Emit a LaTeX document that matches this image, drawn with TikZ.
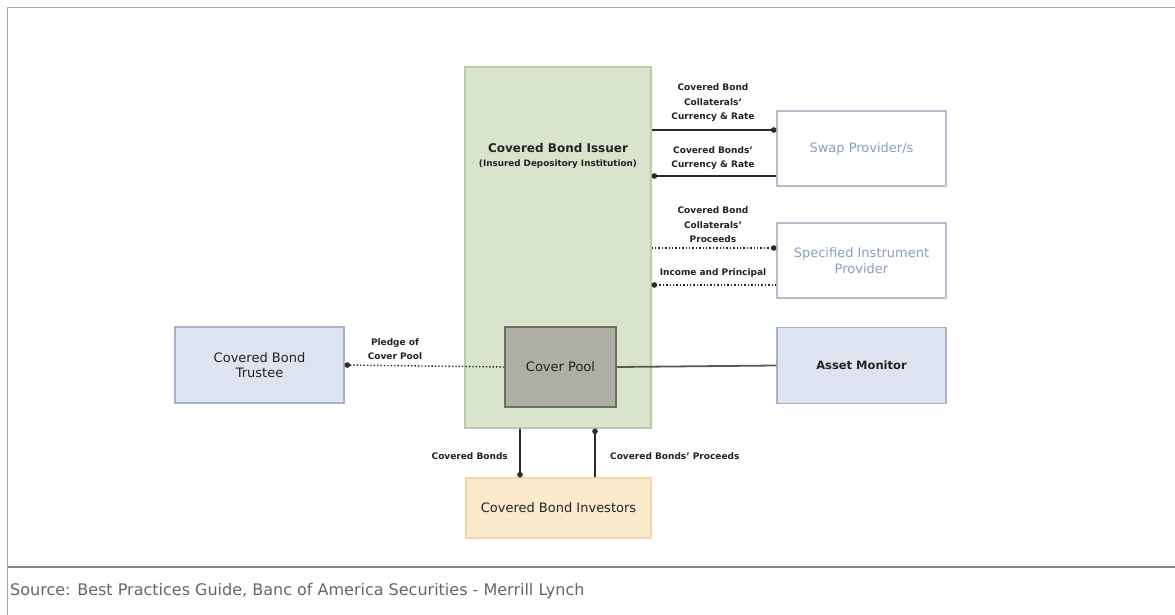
\documentclass[tikz,border=0pt]{standalone}
\usepackage{fontspec}
\setmainfont{DejaVu Sans}
\usetikzlibrary{arrows.meta}
\definecolor{issuerfill}{HTML}{D8E4CC}
\definecolor{issuerdraw}{HTML}{B9CBA6}
\definecolor{poolfill}{HTML}{AEAEA4}
\definecolor{pooldraw}{HTML}{6E6E66}
\definecolor{bluefill}{HTML}{DDE4F0}
\definecolor{bluedraw}{HTML}{A7B2C6}
\definecolor{outlinedraw}{HTML}{B4BECE}
\definecolor{outlinetext}{HTML}{8C9CC0}
\definecolor{invfill}{HTML}{FCEBCB}
\definecolor{invdraw}{HTML}{EFD8A8}
\definecolor{framegray}{HTML}{A8A8A8}
\definecolor{linedark}{HTML}{2A2A2A}
\definecolor{pooline}{HTML}{555C50}
\definecolor{txt}{HTML}{222222}
\definecolor{srcgray}{HTML}{666666}
\tikzset{
  box/.style={draw, line width=1.2pt, inner sep=0pt, align=center, font=\fontsize{13}{15.5}\selectfont, text=txt},
  issuerbox/.style={box, fill=issuerfill, draw=issuerdraw, minimum width=186pt, minimum height=361pt},
  poolbox/.style={box, fill=poolfill, draw=pooldraw, line width=1.5pt, minimum width=111pt, minimum height=80pt},
  bluebox/.style={box, fill=bluefill, draw=bluedraw, minimum width=169pt, minimum height=76pt},
  outbox/.style={box, fill=white, draw=outlinedraw, text=outlinetext, minimum width=169pt, minimum height=75pt},
  invbox/.style={box, fill=invfill, draw=invdraw, minimum width=185pt, minimum height=60pt},
  flow/.style={draw=linedark, line width=1.4pt, -{Circle[length=5.5pt]}},
  dotflow/.style={flow, dotted},
  lbl/.style={font=\bfseries\fontsize{9}{14.5}\selectfont, text=txt, align=center, inner sep=0pt}
}
\begin{document}
\begin{tikzpicture}[x=1pt,y=-1pt]
\useasboundingbox (0,0) rectangle (1175,615);
% frame
\draw[framegray, line width=1.2pt] (7.5,615) -- (7.5,7.5) -- (1175,7.5);
\draw[framegray!80!black, line width=1.2pt] (7.5,567) -- (1175,567);
\node[anchor=west, font=\fontsize{16}{18}\selectfont, text=srcgray, inner sep=0pt] (src) at (10,591) {Source: Best Practices Guide, Banc of America Securities - Merrill Lynch};

% nodes
\node[issuerbox] (issuer) at (558,247.5) {};
\node[font=\bfseries\fontsize{12}{14}\selectfont, text=txt, inner sep=0pt] (ititle) at (558,148) {Covered Bond Issuer};
\node[font=\bfseries\fontsize{8.8}{10}\selectfont, text=txt, inner sep=0pt] (isub) at (558,164) {(Insured Depository Institution)};
\node[poolbox] (pool) at (560.5,367) {Cover Pool};
\node[outbox] (swap) at (861.5,148.5) {Swap Provider/s};
\node[outbox] (sip) at (861.5,260.5) {Specified Instrument\\Provider};
\node[bluebox, font=\bfseries\fontsize{11.5}{14}\selectfont] (monitor) at (861.5,365.5) {Asset Monitor};
\node[bluebox] (trustee) at (259.5,365) {Covered Bond\\Trustee};
\node[invbox] (inv) at (558.5,508) {Covered Bond Investors};

% connectors
\draw[flow] (issuer.east |- 0,130) -- (swap.west |- 0,130);
\draw[flow] (swap.west |- 0,176) -- (issuer.east |- 0,176);
\draw[dotflow] (issuer.east |- 0,248) -- (sip.west |- 0,248);
\draw[dotflow] (sip.west |- 0,285) -- (issuer.east |- 0,285);
\draw[dotflow] (pool.west) -- (trustee.east);
\draw[pooline, line width=1.8pt] (pool.east) -- (monitor.west);
\draw[flow] (issuer.south -| 520,0) -- (inv.north -| 520,0);
\draw[flow] (inv.north -| 595,0) -- (issuer.south -| 595,0);

% labels
\node[lbl] (l1) at (713,103) {Covered Bond\\Collaterals'\\Currency \& Rate};
\node[lbl] (l2) at (713,158) {Covered Bonds'\\Currency \& Rate};
\node[lbl] (l3) at (713,225) {Covered Bond\\Collaterals'\\Proceeds};
\node[lbl] (l4) at (713,273) {Income and Principal};
\node[lbl] (l5) at (395,349) {Pledge of\\Cover Pool};
\node[lbl, anchor=east] (l6) at (508,456) {Covered Bonds};
\node[lbl, anchor=west] (l7) at (610,456) {Covered Bonds' Proceeds};
\end{tikzpicture}
\end{document}
